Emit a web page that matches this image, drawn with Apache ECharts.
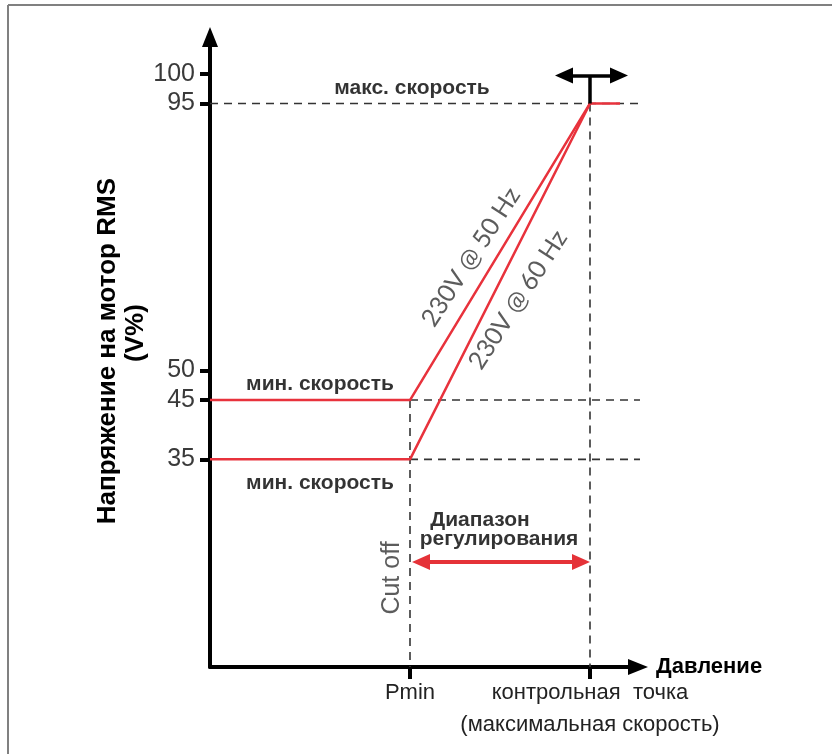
<!DOCTYPE html>
<html>
<head>
<meta charset="utf-8">
<script src="https://cdn.jsdelivr.net/npm/echarts@6/dist/echarts.min.js"></script>
<style>
html,body{margin:0;padding:0;background:#fff;}
#c{width:832px;height:754px;}
</style>
</head>
<body>
<div id="c"></div>
<script>
// ---- data ----
const yTickValues = [35, 45, 50, 95, 100];
const xTickValues = [10, 19];
const xTickLabels = ['Pmin', 'контрольная  точка\n(максимальная скорость)'];
const line50Hz = [[0, 45], [10, 45], [19, 95], [20.5, 95]];
const line60Hz = [[0, 35], [10, 35], [19, 95]];
const guideH = [[[0, 95], [21.5, 95]], [[10, 45], [21.5, 45]], [[10, 35], [21.5, 35]]];
const guideV = [[[10, 45], [10, 0]], [[19, 95], [19, 0]]];
const rangeArrow = [[10.55, 17.7], [18.55, 17.7]];
const setpointStem = [[19, 95], [19, 99.7]];
const setpointArrow = [[17.7, 99.7], [20.45, 99.7]];
const boldNotes = [
  ['макс. скорость', 10.1, 97.6],
  ['мин. скорость', 5.5, 47.7],
  ['мин. скорость', 5.5, 31.0],
  ['Диапазон', 13.5, 24.7],
  ['регулирования', 14.45, 21.5]
];
const slopeNotes = [
  ['230V @ 50 Hz', 13.05, 69.1],
  ['230V @ 60 Hz', 15.4, 61.9]
];
const cutOffNote = ['Cut off', 9.1, 15];

// ---- chart ----
const chart = echarts.init(document.getElementById('c'));
const RED = '#e8323c';
const dashStyle = {color: '#333', width: 1.6, type: [8, 6]};

const series = [];
guideH.concat(guideV).forEach(seg => {
  series.push({type: 'line', data: seg, symbol: 'none', lineStyle: dashStyle, z: 1, silent: true});
});
series.push({type: 'line', name: '230V @ 50 Hz', data: line50Hz, symbol: 'none', lineStyle: {color: RED, width: 2.5}, z: 3});
series.push({type: 'line', name: '230V @ 60 Hz', data: line60Hz, symbol: 'none', lineStyle: {color: RED, width: 2.5}, z: 3});
series.push({type: 'line', data: setpointStem, symbol: 'none', lineStyle: {color: '#000', width: 3.5}, z: 4});
series.push({
  type: 'line', data: [], symbol: 'none', z: 5,
  markLine: {
    silent: true, animation: false,
    label: {show: false},
    data: [
      [{coord: rangeArrow[0], symbol: 'triangle', symbolSize: [16, 18], lineStyle: {color: '#e53238', width: 4, type: 'solid'}},
       {coord: rangeArrow[1], symbol: 'triangle', symbolSize: [16, 18]}],
      [{coord: setpointArrow[0], symbol: 'triangle', symbolSize: [16, 18], lineStyle: {color: '#000', width: 3.5, type: 'solid'}},
       {coord: setpointArrow[1], symbol: 'triangle', symbolSize: [16, 18]}]
    ]
  }
});
series.push({
  type: 'scatter', symbolSize: 1, itemStyle: {color: 'rgba(0,0,0,0)'}, z: 6, silent: true,
  data: boldNotes.map(n => ({
    value: [n[1], n[2]],
    label: {show: true, position: 'inside', formatter: n[0], color: '#000', fontWeight: 'bold', fontSize: 21, fontFamily: 'Liberation Sans, Arial, sans-serif'}
  })).concat(slopeNotes.map(n => ({
    value: [n[1], n[2]],
    label: {show: true, position: 'inside', rotate: 57, formatter: n[0], color: '#333', fontSize: 25, fontFamily: 'Lato, Liberation Sans, sans-serif'}
  }))).concat([{
    value: [cutOffNote[1], cutOffNote[2]],
    label: {show: true, position: 'inside', rotate: 90, formatter: cutOffNote[0], color: '#333', fontSize: 25, fontFamily: 'Liberation Sans Narrow, Liberation Sans, sans-serif'}
  }])
});

const option = {
  animation: false,
  backgroundColor: '#fff',
  grid: {left: 210, right: 194, top: 37, bottom: 87, outerBoundsMode: 'none', containLabel: false},
  xAxis: {
    type: 'value', min: 0, max: 21.4,
    name: 'Давление', nameLocation: 'end', nameGap: 18, nameMoveOverlap: false,
    nameTextStyle: {fontWeight: 'bold', fontSize: 22, color: '#000', fontFamily: 'Liberation Sans, Arial, sans-serif', verticalAlign: 'middle', align: 'left'},
    axisLine: {show: true, symbol: ['none', 'triangle'], symbolSize: [16, 20], lineStyle: {color: '#000', width: 4}},
    axisTick: {show: true, customValues: xTickValues, length: 12, lineStyle: {color: '#000', width: 4}},
    axisLabel: {
      show: true, customValues: xTickValues, margin: 10,
      formatter: v => xTickLabels[xTickValues.indexOf(v)] || '',
      color: '#222', fontSize: 22, lineHeight: 32,
      fontFamily: 'Liberation Sans Narrow, Liberation Sans, sans-serif'
    },
    splitLine: {show: false}
  },
  yAxis: {
    type: 'value', min: 0, max: 106.2,
    axisLine: {show: true, symbol: ['none', 'triangle'], symbolSize: [16, 20], lineStyle: {color: '#000', width: 4}},
    axisTick: {show: true, customValues: yTickValues, length: 10, lineStyle: {color: '#000', width: 4}},
    axisLabel: {show: true, customValues: yTickValues, margin: 15, color: '#3a3a3a', fontSize: 25, fontFamily: 'Liberation Sans, Arial, sans-serif'},
    splitLine: {show: false}
  },
  graphic: [
    {type: 'line', shape: {x1: 8, y1: 5, x2: 832, y2: 5}, style: {stroke: '#808080', lineWidth: 2}},
    {type: 'line', shape: {x1: 8, y1: 5, x2: 8, y2: 754}, style: {stroke: '#808080', lineWidth: 2}},
    {type: 'text', x: 108, y: 178, rotation: Math.PI / 2,
     style: {text: 'Напряжение на мотор RMS', align: 'right', verticalAlign: 'middle', fontSize: 26, fontWeight: 'bold', fill: '#000', fontFamily: 'Liberation Sans, Arial, sans-serif'}},
    {type: 'text', x: 136, y: 333, rotation: Math.PI / 2,
     style: {text: '(V%)', align: 'center', verticalAlign: 'middle', fontSize: 26, fontWeight: 'bold', fill: '#000', fontFamily: 'Liberation Sans, Arial, sans-serif'}}
  ],
  series: series
};
chart.setOption(option);
</script>
</body>
</html>
